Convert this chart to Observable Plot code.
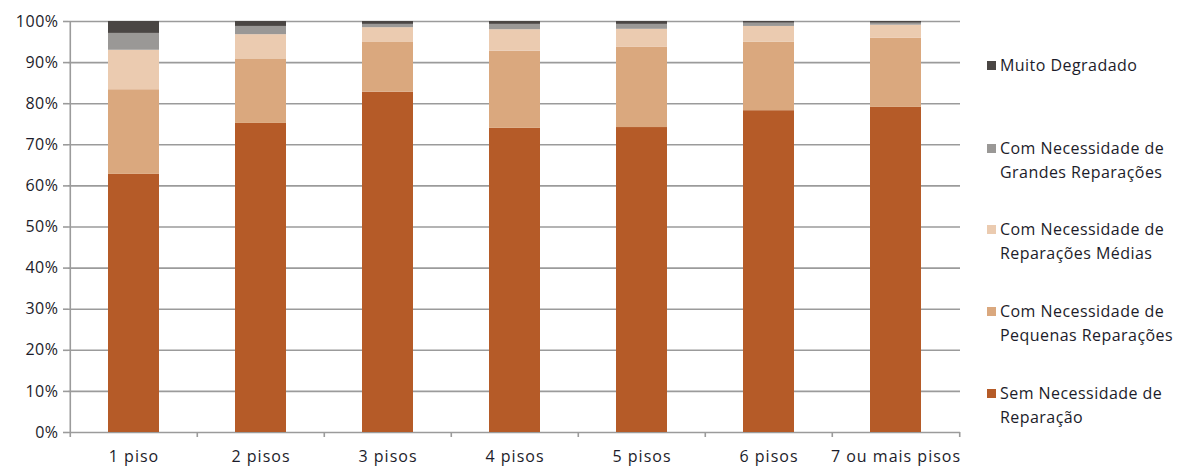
<!DOCTYPE html>
<html>
<head>
<meta charset="utf-8">
<script src="https://cdn.jsdelivr.net/npm/d3@7"></script>
<script src="https://cdn.jsdelivr.net/npm/@observablehq/plot@0.6"></script>
<style>
  html, body { margin: 0; padding: 0; background: #fff; }
  #wrap { position: relative; width: 1188px; height: 468px; font-family: "Open Sans", sans-serif; }
  #legend { position: absolute; left: 987px; top: 0; width: 200px; }
  .item { position: absolute; left: 0; display: flex; align-items: flex-start; color: #1c1c2a; font-size: 16px; line-height: 24px; letter-spacing: 0.45px; white-space: nowrap; }
  .sw { width: 9px; height: 9px; margin-top: 8px; margin-right: 4px; flex: none; }
  .xax text { letter-spacing: 1px; }
  .yax text { letter-spacing: 0.5px; }
</style>
</head>
<body>
<div id="wrap"><div id="legend"></div></div>
<script>
const categories = ["1 piso", "2 pisos", "3 pisos", "4 pisos", "5 pisos", "6 pisos", "7 ou mais pisos"];
const seriesNames = [
  "Sem Necessidade de Reparação",
  "Com Necessidade de Pequenas Reparações",
  "Com Necessidade de Reparações Médias",
  "Com Necessidade de Grandes Reparações",
  "Muito Degradado"
];
const legendLines = [
  ["Sem Necessidade de", "Reparação"],
  ["Com Necessidade de", "Pequenas Reparações"],
  ["Com Necessidade de", "Reparações Médias"],
  ["Com Necessidade de", "Grandes Reparações"],
  ["Muito Degradado"]
];
const colors = ["#B55B28", "#DAA87E", "#EBCBB0", "#9A9896", "#4A4644"];
const semNecessidade = [62.8, 75.2, 82.8, 74.0, 74.2, 78.3, 79.1];
const pequenas       = [20.6, 15.7, 12.1, 18.8, 19.5, 16.7, 16.8];
const medias         = [9.6, 5.9, 3.6, 5.2, 4.4, 3.8, 3.2];
const grandes        = [4.1, 2.0, 0.8, 1.3, 1.2, 0.8, 0.5];
const muitoDegradado = [2.9, 1.2, 0.7, 0.7, 0.7, 0.4, 0.4];
const yTicks = [0, 0.1, 0.2, 0.3, 0.4, 0.5, 0.6, 0.7, 0.8, 0.9, 1.0];

const seriesValues = [semNecessidade, pequenas, medias, grandes, muitoDegradado];
const data = [];
seriesNames.forEach((s, si) => {
  categories.forEach((c, ci) => {
    data.push({cat: c, series: s, value: seriesValues[si][ci] / 100});
  });
});

const W = 1188, H = 468, mL = 68, mR = 228, mT = 21, mB = 36;
const step = (W - mL - mR) / categories.length;
const gridColor = "#9b9b9b";

const chart = Plot.plot({
  width: W,
  height: H,
  marginLeft: mL,
  marginRight: mR,
  marginTop: mT,
  marginBottom: mB,
  style: {fontFamily: "'Open Sans', sans-serif", fontSize: "15px", color: "#1c1c2a", background: "#fff"},
  x: {domain: categories, paddingInner: 0.6, paddingOuter: 0.3, label: null},
  y: {domain: [0, 1], label: null},
  color: {domain: seriesNames, range: colors},
  marks: [
    Plot.ruleY(yTicks, {stroke: gridColor, strokeWidth: 1.6}),
    Plot.ruleX([categories[0]], {x: d => d, dx: -step / 2, stroke: gridColor, strokeWidth: 1.6}),
    Plot.ruleX(categories, {x: d => d, dx: -step / 2, stroke: gridColor, strokeWidth: 1.6, insetTop: H - mT - mB, insetBottom: -5}),
    Plot.ruleX([categories[categories.length - 1]], {x: d => d, dx: step / 2, stroke: gridColor, strokeWidth: 1.6, insetTop: H - mT - mB, insetBottom: -5}),
    Plot.barY(data, Plot.stackY({order: seriesNames}, {x: "cat", y: "value", fill: "series"})),
    Plot.axisY({ticks: yTicks, tickFormat: d3.format(".0%"), tickSize: 5, tickPadding: 5, stroke: gridColor, strokeWidth: 1.6, fontSize: 16, label: null, className: "yax"}),
    Plot.axisX({tickSize: 0, tickPadding: 18, fontSize: 16, label: null, className: "xax"})
  ]
});
document.getElementById("wrap").prepend(chart);

const legend = document.getElementById("legend");
const tops = [381, 299, 217, 136, 53];
seriesNames.forEach((s, i) => {
  const it = document.createElement("div");
  it.className = "item";
  it.style.top = tops[i] + "px";
  const sw = document.createElement("div");
  sw.className = "sw";
  sw.style.background = colors[i];
  const tx = document.createElement("div");
  tx.innerHTML = legendLines[i].join("<br>");
  it.appendChild(sw);
  it.appendChild(tx);
  legend.appendChild(it);
});
</script>
</body>
</html>
